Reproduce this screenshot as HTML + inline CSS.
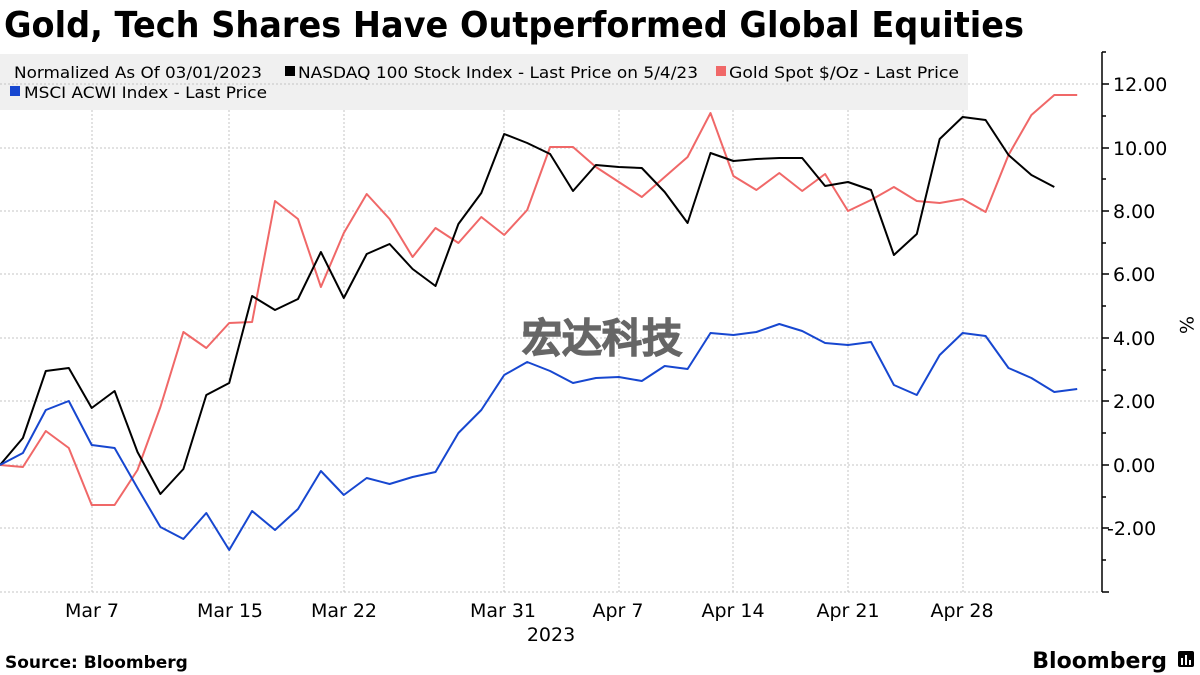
<!DOCTYPE html>
<html><head><meta charset="utf-8"><style>
html,body{margin:0;padding:0;background:#fff;}
svg{display:block;}
text{font-family:"DejaVu Sans","Liberation Sans",sans-serif;}
</style></head><body>
<svg width="1200" height="675" viewBox="0 0 1200 675" xmlns="http://www.w3.org/2000/svg">
<text x="4" y="37" font-size="36" font-weight="bold" textLength="1020" lengthAdjust="spacingAndGlyphs" fill="#000">Gold, Tech Shares Have Outperformed Global Equities</text>
<rect x="0" y="54" width="968" height="56" fill="#f0f0f0"/>
<g stroke="#c4c4c4" stroke-width="1" stroke-dasharray="2,2" fill="none">
<line x1="0" y1="84" x2="1100" y2="84"/>
<line x1="0" y1="148" x2="1100" y2="148"/>
<line x1="0" y1="211" x2="1100" y2="211"/>
<line x1="0" y1="274" x2="1100" y2="274"/>
<line x1="0" y1="338" x2="1100" y2="338"/>
<line x1="0" y1="401" x2="1100" y2="401"/>
<line x1="0" y1="465" x2="1100" y2="465"/>
<line x1="0" y1="528" x2="1100" y2="528"/>
<line x1="0" y1="592" x2="1100" y2="592"/>
<line x1="92" y1="110" x2="92" y2="592"/>
<line x1="229" y1="110" x2="229" y2="592"/>
<line x1="344" y1="110" x2="344" y2="592"/>
<line x1="504" y1="110" x2="504" y2="592"/>
<line x1="619" y1="110" x2="619" y2="592"/>
<line x1="733" y1="110" x2="733" y2="592"/>
<line x1="848" y1="110" x2="848" y2="592"/>
<line x1="963" y1="110" x2="963" y2="592"/>
</g>
<g font-size="16" fill="#000">
<text x="14" y="78" textLength="248" lengthAdjust="spacingAndGlyphs">Normalized As Of 03/01/2023</text>
<rect x="285" y="66" width="10" height="10" fill="#000"/>
<text x="298" y="78" textLength="400" lengthAdjust="spacingAndGlyphs">NASDAQ 100 Stock Index - Last Price on 5/4/23</text>
<rect x="716" y="66" width="10" height="10" fill="#f06868"/>
<text x="729" y="78" textLength="230" lengthAdjust="spacingAndGlyphs">Gold Spot $/Oz - Last Price</text>
<rect x="10" y="86" width="10" height="10" fill="#1747d0"/>
<text x="24" y="98" textLength="243" lengthAdjust="spacingAndGlyphs">MSCI ACWI Index - Last Price</text>
</g>
<text x="602" y="352" font-size="40" font-weight="900" fill="#666" stroke="#666" stroke-width="1.2" text-anchor="middle" font-family="'Noto Sans CJK SC',sans-serif">宏达科技</text>
<g fill="none" stroke-width="2" stroke-linejoin="round">
<polyline stroke="#f06868" points="0,465 22.9,467 45.8,431 68.8,448 91.7,505 114.6,505 137.5,470 160.4,407 183.4,332 206.3,348 229.2,323 252.1,322 275,201 298,219 320.9,287 343.8,233 366.7,194 389.6,219 412.6,257 435.5,228 458.4,243 481.3,217 504.2,235 527.2,210 550.1,147 573,147 595.9,167 618.8,182 641.8,197 664.7,177 687.6,157 710.5,113 733.4,176 756.4,190 779.3,173 802.2,191 825.1,174 848,211 871,200 893.9,187 916.8,201 939.7,203 962.6,199 985.6,212 1008.5,155 1031.4,115 1054.3,95 1077.2,95"/>
<polyline stroke="#000" points="0,465 22.9,438 45.8,371 68.8,368 91.7,408 114.6,391 137.5,452 160.4,494 183.4,469 206.3,395 229.2,383 252.1,296 275,310 298,299 320.9,252 343.8,298 366.7,254 389.6,244 412.6,269 435.5,286 458.4,224 481.3,193 504.2,134 527.2,143 550.1,154 573,191 595.9,165 618.8,167 641.8,168 664.7,192 687.6,223 710.5,153 733.4,161 756.4,159 779.3,158 802.2,158 825.1,186 848,182 871,190 893.9,255 916.8,234 939.7,139 962.6,117 985.6,120 1008.5,155 1031.4,175 1054.3,187"/>
<polyline stroke="#1747d0" points="0,465 22.9,453 45.8,410 68.8,401 91.7,445 114.6,448 137.5,488 160.4,527 183.4,539 206.3,513 229.2,550 252.1,511 275,530 298,509 320.9,471 343.8,495 366.7,478 389.6,484 412.6,477 435.5,472 458.4,433 481.3,410 504.2,375 527.2,362 550.1,371 573,383 595.9,378 618.8,377 641.8,381 664.7,366 687.6,369 710.5,333 733.4,335 756.4,332 779.3,324 802.2,331 825.1,343 848,345 871,342 893.9,385 916.8,395 939.7,355 962.6,333 985.6,336 1008.5,368 1031.4,378 1054.3,392 1077.2,389"/>
</g>
<g stroke="#000" stroke-width="1.5">
<line x1="1102" y1="52" x2="1102" y2="592"/>
<line x1="1102" y1="84" x2="1109" y2="84"/>
<line x1="1102" y1="148" x2="1109" y2="148"/>
<line x1="1102" y1="211" x2="1109" y2="211"/>
<line x1="1102" y1="274" x2="1109" y2="274"/>
<line x1="1102" y1="338" x2="1109" y2="338"/>
<line x1="1102" y1="401" x2="1109" y2="401"/>
<line x1="1102" y1="465" x2="1109" y2="465"/>
<line x1="1102" y1="528" x2="1109" y2="528"/>
<line x1="1102" y1="592" x2="1109" y2="592"/>
<line x1="1102" y1="52" x2="1106" y2="52"/>
<line x1="1102" y1="116" x2="1106" y2="116"/>
<line x1="1102" y1="179" x2="1106" y2="179"/>
<line x1="1102" y1="243" x2="1106" y2="243"/>
<line x1="1102" y1="306" x2="1106" y2="306"/>
<line x1="1102" y1="370" x2="1106" y2="370"/>
<line x1="1102" y1="433" x2="1106" y2="433"/>
<line x1="1102" y1="497" x2="1106" y2="497"/>
<line x1="1102" y1="560" x2="1106" y2="560"/>
</g>
<g font-size="19" fill="#000">
<text x="1113" y="91">12.00</text>
<text x="1113" y="155">10.00</text>
<text x="1113" y="218">8.00</text>
<text x="1113" y="281">6.00</text>
<text x="1113" y="345">4.00</text>
<text x="1113" y="408">2.00</text>
<text x="1113" y="472">0.00</text>
<text x="1107" y="535">-2.00</text>
<text x="1180" y="325" transform="rotate(90 1180 325)" text-anchor="middle">%</text>
</g>
<g font-size="19" fill="#000" text-anchor="middle">
<text x="92" y="617">Mar 7</text>
<text x="230" y="617">Mar 15</text>
<text x="344" y="617">Mar 22</text>
<text x="503" y="617">Mar 31</text>
<text x="618" y="617">Apr 7</text>
<text x="733" y="617">Apr 14</text>
<text x="848" y="617">Apr 21</text>
<text x="962" y="617">Apr 28</text>
<text x="551" y="641">2023</text>
</g>
<text x="5" y="668" font-size="17" font-weight="bold" fill="#000">Source: Bloomberg</text>
<text x="1167" y="668" font-size="22" font-weight="bold" fill="#000" text-anchor="end" font-family="'Liberation Sans',sans-serif">Bloomberg</text>
<rect x="1178" y="651" width="16" height="16" rx="2" fill="#000"/>
<g stroke="#fff" stroke-width="2"><line x1="1182" y1="658" x2="1182" y2="665"/><line x1="1186" y1="655" x2="1186" y2="665"/><line x1="1190" y1="660" x2="1190" y2="665"/></g>
</svg>
</body></html>
